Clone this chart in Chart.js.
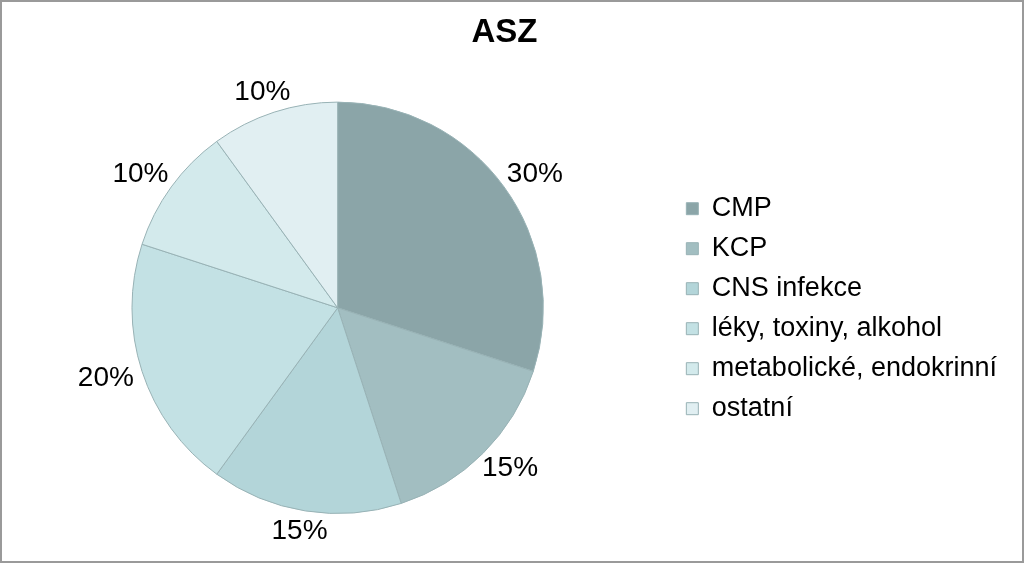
<!DOCTYPE html>
<html>
<head>
<meta charset="utf-8">
<script src="https://cdn.jsdelivr.net/npm/chart.js@4/dist/chart.umd.min.js"></script>
<style>
  body { margin: 0; background: #fff; }
  #wrap { width: 1024px; height: 563px; box-sizing: border-box; border: 2px solid #9a9a9a; background: #fff; }
  #wrap canvas { display: block; }
</style>
</head>
<body>
<div id="wrap"><canvas id="asz" width="1020" height="559"></canvas></div>
<script>
const labels = ['CMP', 'KCP', 'CNS infekce', 'léky, toxiny, alkohol', 'metabolické, endokrinní', 'ostatní']
const values = [30, 15, 15, 20, 10, 10]
const colors = ['#8ba5a8', '#a2bec1', '#b3d5d9', '#c3e1e4', '#d3eaec', '#e1eff2']

const FONT = "'Liberation Sans', Arial, sans-serif"

// percent labels outside each slice
const outsideLabels = {
  id: 'outsideLabels',
  afterDatasetsDraw(chart) {
    const ctx = chart.ctx
    const meta = chart.getDatasetMeta(0)
    const total = values.reduce((a, b) => a + b, 0)
    ctx.save()
    ctx.font = '28px ' + FONT
    ctx.fillStyle = '#000'
    ctx.textAlign = 'center'
    ctx.textBaseline = 'middle'
    meta.data.forEach((arc, i) => {
      const p = arc.getProps(['x', 'y', 'startAngle', 'endAngle', 'outerRadius'], true)
      const mid = (p.startAngle + p.endAngle) / 2
      const txt = Math.round(values[i] / total * 100) + '%'
      const w = ctx.measureText(txt).width
      const h = 22
      const r = p.outerRadius + 10
      const x = p.x + Math.cos(mid) * r + Math.cos(mid) * w / 2
      const y = p.y + Math.sin(mid) * r + Math.sin(mid) * h / 2
      ctx.fillText(txt, x, y)
    })
    ctx.restore()
  }
}

new Chart(document.querySelector('#asz'), {
  type: 'pie',
  data: {
    labels: labels,
    datasets: [{
      data: values,
      backgroundColor: colors,
      borderColor: '#98b2b5',
      borderWidth: 1
    }]
  },
  options: {
    responsive: false,
    animation: false,
    layout: {
      padding: { left: 0, right: 15, top: 0, bottom: 47 }
    },
    plugins: {
      title: {
        display: true,
        text: 'ASZ',
        color: '#000',
        font: { family: FONT, size: 33, weight: 'bold' },
        padding: { top: 11, bottom: 49 }
      },
      legend: {
        position: 'right',
        align: 'center',
        title: {
          display: true,
          text: ' ',
          font: { size: 12 },
          padding: { top: 87, bottom: 0 }
        },
        labels: {
          color: '#000',
          font: { family: FONT, size: 27 },
          boxWidth: 12,
          boxHeight: 12,
          padding: 13
        }
      },
      tooltip: { enabled: false }
    }
  },
  plugins: [outsideLabels]
})
</script>
</body>
</html>
